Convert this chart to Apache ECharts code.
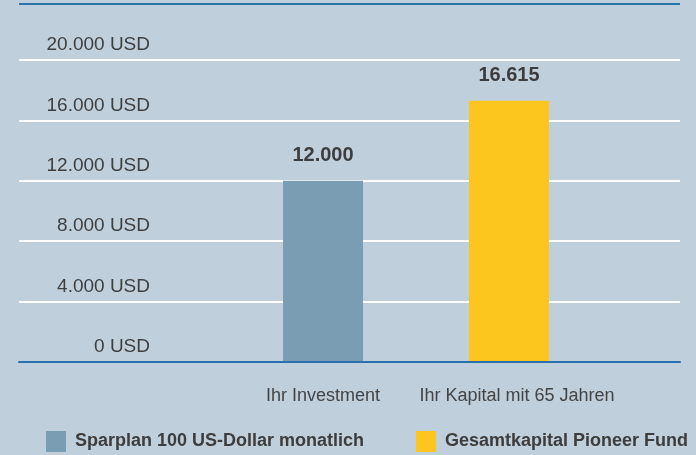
<!DOCTYPE html>
<html>
<head>
<meta charset="utf-8">
<script src="https://cdn.jsdelivr.net/npm/echarts@6/dist/echarts.min.js"></script>
<style>
  html, body { margin: 0; padding: 0; background: #bfcfdc; }
  #chart { width: 696px; height: 455px; }
</style>
</head>
<body>
<div id="chart"></div>
<script>
// Daten
const categories = ['Ihr Investment', 'Ihr Kapital mit 65 Jahren']
const seriesNames = ['Sparplan 100 US-Dollar monatlich', 'Gesamtkapital Pioneer Fund']
const investment = [12000, '-']
const kapital = ['-', 17300]
const barLabels = ['12.000', '16.615']
const yTicks = [0, 4000, 8000, 12000, 16000, 20000]

const FONT = "'Liberation Sans', Arial, sans-serif"

// 12000 -> 12.000
function fmt(v) {
  return String(v).replace(/\B(?=(\d{3})+(?!\d))/g, '.')
}

const myChart = echarts.init(document.querySelector('#chart'))
const option = {
  backgroundColor: '#bfcfdc',
  animation: false,
  textStyle: { fontFamily: FONT },
  // obere Linie
  graphic: [
    {
      type: 'line',
      shape: { x1: 19, y1: 4, x2: 680, y2: 4 },
      style: { stroke: '#2a74ac', lineWidth: 2 }
    }
  ],
  grid: [
    // Hilfslinien, volle Breite
    { left: 19, right: 16, top: 60, bottom: 93 },
    // Balken
    { left: 230, right: 94, top: 60, bottom: 93 }
  ],
  xAxis: [
    {
      type: 'category',
      gridIndex: 0,
      data: [''],
      axisTick: { show: false },
      axisLabel: { show: false },
      axisLine: { lineStyle: { color: '#2a6fae', width: 2 } },
      z: 5
    },
    {
      type: 'category',
      gridIndex: 1,
      data: categories,
      axisTick: { show: false },
      axisLine: { show: false },
      axisLabel: {
        interval: 0,
        margin: 25,
        fontSize: 18,
        color: '#444',
        fontFamily: FONT,
        formatter: (v, i) => i === 0 ? '{a|' + v + '}' : '{b|' + v + '}',
        rich: {
          a: { fontSize: 18, color: '#444', fontFamily: FONT },
          b: { fontSize: 18, color: '#444', fontFamily: FONT, padding: [0, 0, 0, 16] }
        }
      }
    }
  ],
  yAxis: [
    {
      type: 'value',
      gridIndex: 0,
      min: 0,
      max: 20000,
      interval: 4000,
      axisLine: { show: false },
      axisTick: { show: false },
      splitLine: { lineStyle: { color: '#ffffff', width: 2 } },
      axisLabel: {
        inside: true,
        margin: 131,
        align: 'right',
        verticalAlign: 'bottom',
        lineHeight: 22,
        padding: [0, 0, 4, 0],
        fontSize: 19,
        color: '#3f3f3f',
        fontFamily: FONT,
        formatter: v => yTicks.includes(v) ? fmt(v) + ' USD' : ''
      }
    },
    {
      type: 'value',
      gridIndex: 1,
      min: 0,
      max: 20000,
      interval: 4000,
      show: false,
      splitLine: { show: false }
    }
  ],
  legend: [
    {
      data: [seriesNames[0]],
      left: 46,
      top: 431,
      padding: 0,
      itemWidth: 20,
      itemHeight: 21,
      icon: 'rect',
      textStyle: { fontSize: 18, fontWeight: 'bold', color: '#3d3d3d', fontFamily: FONT, padding: [0, 0, 0, 4] }
    },
    {
      data: [seriesNames[1]],
      left: 416,
      top: 431,
      padding: 0,
      itemWidth: 20,
      itemHeight: 21,
      icon: 'rect',
      textStyle: { fontSize: 18, fontWeight: 'bold', color: '#3d3d3d', fontFamily: FONT, padding: [0, 0, 0, 4] }
    }
  ],
  series: [
    {
      name: seriesNames[0],
      type: 'bar',
      xAxisIndex: 1,
      yAxisIndex: 1,
      data: investment,
      barWidth: 80,
      barGap: '-100%',
      itemStyle: { color: '#7a9db3' },
      label: {
        show: true,
        position: 'top',
        distance: 15,
        fontSize: 20,
        fontWeight: 'bold',
        color: '#3d3d3d',
        fontFamily: FONT,
        formatter: p => barLabels[p.dataIndex]
      },
      z: 3
    },
    {
      name: seriesNames[1],
      type: 'bar',
      xAxisIndex: 1,
      yAxisIndex: 1,
      data: kapital,
      barWidth: 80,
      barGap: '-100%',
      itemStyle: { color: '#fdc61e' },
      label: {
        show: true,
        position: 'top',
        distance: 15,
        fontSize: 20,
        fontWeight: 'bold',
        color: '#3d3d3d',
        fontFamily: FONT,
        formatter: p => barLabels[p.dataIndex]
      },
      z: 3
    }
  ]
}
myChart.setOption(option)
</script>
</body>
</html>
